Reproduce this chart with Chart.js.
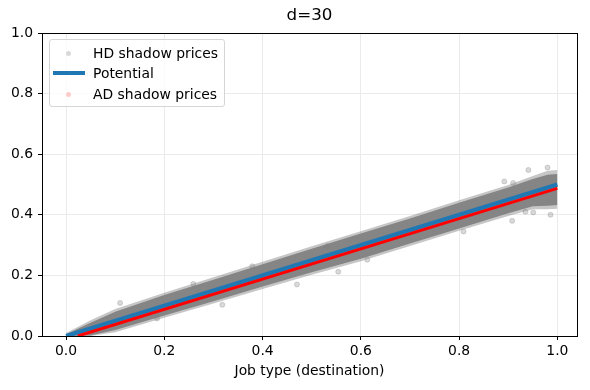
<!DOCTYPE html>
<html>
<head>
<meta charset="utf-8">
<script src="https://cdn.jsdelivr.net/npm/chart.js@4"></script>
<style>
  html, body { margin: 0; padding: 0; background: #fff; }
  #wrap { position: relative; width: 590px; height: 390px; }
  #legend {
    position: absolute; left: 49px; top: 39px; width: 174px; height: 66px;
    background: rgba(255,255,255,0.8); border: 1px solid #d6d6d6; border-radius: 3px;
    font: 13.9px "DejaVu Sans", sans-serif; color: #000;
  }
  .row { position: absolute; left: 0; height: 20px; line-height: 20px; }
  .row span.lbl { position: absolute; left: 43px; white-space: nowrap; }
  .dot { position: absolute; width: 5px; height: 5px; border-radius: 50%; left: 16px; top: 8px; }
  .bar { position: absolute; width: 32px; height: 4px; left: 3px; top: 8px; background: #1f77b4; }
</style>
</head>
<body>
<div id="wrap">
  <canvas id="myChart" width="590" height="390"></canvas>
  <div id="legend">
    <div class="row" style="top:3px"><div class="dot" style="background:rgba(128,128,128,0.3)"></div><span class="lbl">HD shadow prices</span></div>
    <div class="row" style="top:23px"><div class="bar"></div><span class="lbl">Potential</span></div>
    <div class="row" style="top:44px"><div class="dot" style="background:rgba(255,0,0,0.2)"></div><span class="lbl">AD shadow prices</span></div>
  </div>
</div>
<script>
const title = 'd=30';
const xLabel = 'Job type (destination)';
const xTicks = [0, 0.2, 0.4, 0.6, 0.8, 1.0];
const yTicks = [0, 0.2, 0.4, 0.6, 0.8, 1.0];

// gray cloud of HD shadow prices, read as a band (dense core + lighter fringe)
const bandX      = [0, 0.05, 0.1, 0.2, 0.3, 0.4, 0.5, 0.6, 0.7, 0.8, 0.9, 0.95, 0.98, 1.0];
const innerUpper = [0.006, 0.044, 0.08, 0.135, 0.186, 0.237, 0.288, 0.338, 0.388, 0.44, 0.49, 0.518, 0.532, 0.535];
const innerLower = [0, 0.002, 0.02, 0.068, 0.115, 0.163, 0.21, 0.255, 0.305, 0.355, 0.405, 0.428, 0.43, 0.432];
const outerUpper = [0.01, 0.052, 0.089, 0.143, 0.194, 0.245, 0.296, 0.346, 0.396, 0.448, 0.498, 0.528, 0.545, 0.548];
const outerLower = [0, 0, 0.012, 0.06, 0.107, 0.155, 0.202, 0.247, 0.297, 0.347, 0.396, 0.418, 0.418, 0.42];

// scattered HD points outside the band
const hdOutX = [0.11, 0.185, 0.259, 0.318, 0.379, 0.47, 0.532, 0.554, 0.613, 0.809, 0.892, 0.91, 0.908, 0.935, 0.941, 0.951, 0.98, 0.986];
const hdOutY = [0.109, 0.058, 0.172, 0.103, 0.23, 0.17, 0.297, 0.212, 0.252, 0.345, 0.51, 0.505, 0.38, 0.41, 0.548, 0.408, 0.556, 0.40];

const potX = [0, 1.0];
const potY = [0, 0.5];

const adX = [0.024, 1.0];
const adY = [0, 0.487];

const pts = (xs, ys) => xs.map((x, i) => ({ x, y: ys[i] }));
const FONT = '"DejaVu Sans", sans-serif';

const bandLine = (ys, fillTo, color, order) => ({
  data: pts(bandX, ys),
  showLine: true,
  borderWidth: 0,
  pointRadius: 0,
  tension: 0,
  fill: fillTo === null ? false : { target: fillTo },
  backgroundColor: color,
  order
});

const frame = {
  id: 'frame',
  afterDatasetsDraw(chart) {
    const { ctx, chartArea: a } = chart;
    ctx.save();
    ctx.strokeStyle = '#000';
    ctx.lineWidth = 1;
    ctx.strokeRect(Math.round(a.left) + 0.5, Math.round(a.top) + 0.5,
      Math.round(a.right - a.left), Math.round(a.bottom - a.top));
    ctx.fillStyle = '#000';
    ctx.font = '16.7px ' + FONT;
    ctx.textAlign = 'center';
    ctx.textBaseline = 'middle';
    ctx.fillText(title, (a.left + a.right) / 2, 16);
    ctx.restore();
  }
};

const ctx = document.getElementById('myChart').getContext('2d');
const chart = new Chart(ctx, {
  type: 'scatter',
  data: {
    datasets: [
      {
        label: 'AD shadow prices',
        data: pts(adX, adY),
        showLine: true,
        borderColor: '#ff0000',
        borderWidth: 3,
        pointRadius: 0,
        tension: 0,
        order: 0
      },
      {
        label: 'Potential',
        data: pts(potX, potY),
        showLine: true,
        borderColor: '#1f77b4',
        borderWidth: 4,
        pointRadius: 0,
        tension: 0,
        order: 1
      },
      {
        label: 'HD shadow prices',
        data: pts(hdOutX, hdOutY),
        pointRadius: 2.5,
        backgroundColor: 'rgba(128,128,128,0.3)',
        borderColor: 'rgba(128,128,128,0.3)',
        order: 2
      },
      bandLine(innerUpper, 4, '#858585', 3),
      bandLine(innerLower, null, '#858585', 3),
      bandLine(outerUpper, 6, 'rgba(128,128,128,0.45)', 4),
      bandLine(outerLower, null, 'rgba(128,128,128,0.45)', 4)
    ]
  },
  options: {
    responsive: false,
    animation: false,
    layout: { padding: { top: 33, right: 13, left: 0, bottom: 0 } },
    scales: {
      x: {
        type: 'linear',
        min: -0.049,
        max: 1.04,
        afterBuildTicks: s => { s.ticks = xTicks.map(v => ({ value: v })); },
        afterFit: s => { s.height = 54; },
        ticks: {
          color: '#000',
          font: { family: FONT, size: 13.9 },
          padding: 3,
          callback: v => v.toFixed(1)
        },
        grid: { color: '#ebebeb', tickColor: '#000', tickLength: 4 },
        border: { display: false },
        title: {
          display: true,
          text: xLabel,
          color: '#000',
          font: { family: FONT, size: 13.9 },
          padding: { top: 0, bottom: 10 }
        }
      },
      y: {
        type: 'linear',
        min: 0,
        max: 1,
        afterBuildTicks: s => { s.ticks = yTicks.map(v => ({ value: v })); },
        afterFit: s => { s.width = 42; },
        ticks: {
          color: '#000',
          font: { family: FONT, size: 13.9 },
          padding: 5,
          callback: v => v.toFixed(1)
        },
        grid: { color: '#ebebeb', tickColor: '#000', tickLength: 4 },
        border: { display: false }
      }
    },
    plugins: {
      legend: { display: false },
      title: { display: false },
      tooltip: { enabled: false }
    }
  },
  plugins: [frame]
});
</script>
</body>
</html>
